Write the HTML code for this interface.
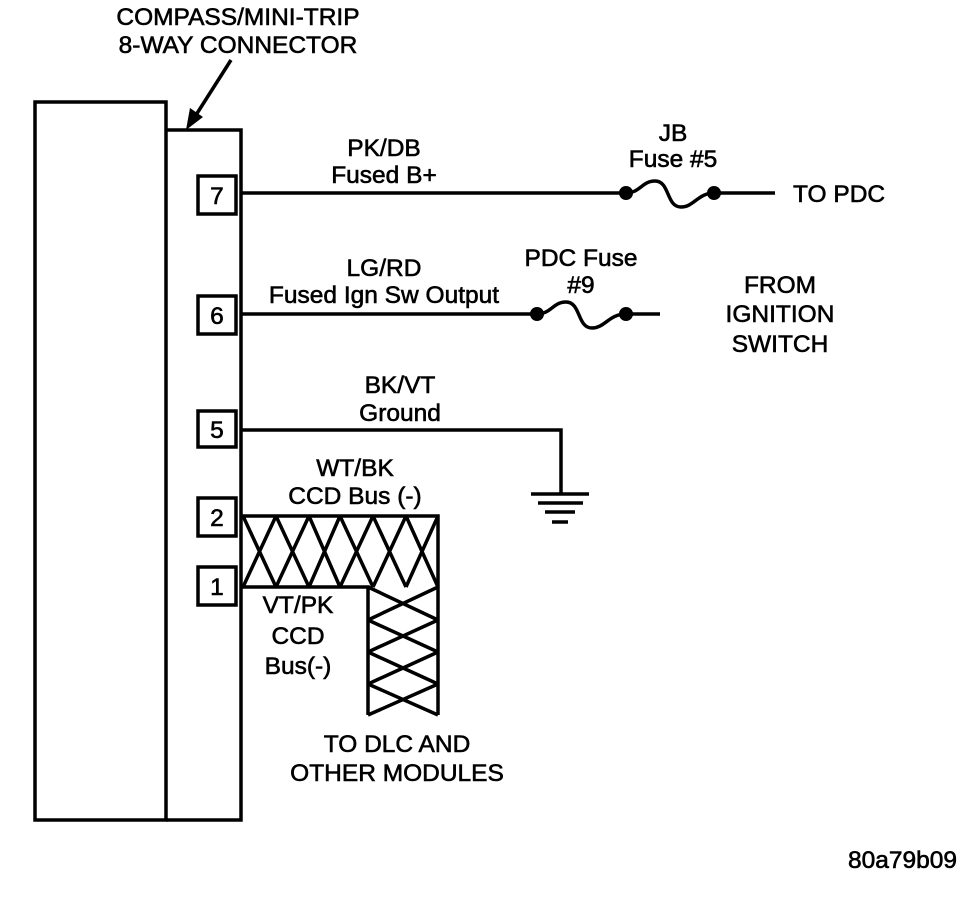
<!DOCTYPE html>
<html><head><style>
html,body{margin:0;padding:0;background:#fff;}
svg{display:block;}
text{font-family:"Liberation Sans",Arial,sans-serif;font-size:24.5px;fill:#000;stroke:#000;stroke-width:0.6;}
</style></head><body>
<svg width="976" height="898" viewBox="0 0 976 898" xmlns="http://www.w3.org/2000/svg">
<g fill="none" stroke="#000" stroke-width="3.5">
<rect x="35" y="102" width="131" height="718"/>
<polyline points="166,130 241,130 241,820 166,820"/>
<rect x="198" y="176" width="38" height="38"/>
<rect x="198" y="296" width="38" height="38"/>
<rect x="198" y="411" width="38" height="36"/>
<rect x="198" y="498" width="38" height="38"/>
<rect x="198" y="567" width="38" height="38"/>
<line x1="241" y1="193" x2="626" y2="193"/>
<line x1="714" y1="193" x2="775" y2="193"/>
<path d="M626,193 C640,193 642,181 655,181 C670,181 666,207 681,207 C694,207 698,193 714,193"/>
<line x1="241" y1="314" x2="537" y2="314"/>
<line x1="626" y1="314" x2="660" y2="314"/>
<path d="M537,314 C551,314 553,302 566,302 C581,302 577,328 592,328 C605,328 609,314 626,314"/>
<polyline points="241,430 561,430 561,494"/>
<line x1="531" y1="494" x2="589" y2="494"/>
<line x1="538" y1="503" x2="583" y2="503"/>
<line x1="545" y1="512" x2="575" y2="512"/>
<line x1="552" y1="522" x2="568" y2="522"/>
<line x1="231" y1="60" x2="196" y2="115"/>
<polyline points="241,516 438,516 438,715"/>
<polyline points="241,587 368,587 368,715"/>
<path d="M243,516 L276,587 M276,516 L243,587 M276,516 L309,587 M309,516 L276,587 M309,516 L340,587 M340,516 L309,587 M340,516 L373,587 M373,516 L340,587 M373,516 L406,587 M406,516 L373,587 M406,516 L438,587 M438,516 L406,587"/>
<path d="M368,587 L438,620 M438,587 L368,620 M368,620 L438,652 M438,620 L368,652 M368,652 L438,684 M438,652 L368,684 M368,684 L438,715 M438,684 L368,715"/>
</g>
<polygon points="186,130 190,108 203,117" fill="#000"/>
<g fill="#000">
<circle cx="626" cy="193" r="7"/><circle cx="714" cy="193" r="7"/>
<circle cx="537" cy="314" r="7"/><circle cx="626" cy="314" r="7"/>
</g>
<g text-anchor="middle">
<text x="238" y="25">COMPASS/MINI-TRIP</text>
<text x="238" y="53">8-WAY CONNECTOR</text>
<text x="217" y="204">7</text>
<text x="217" y="324">6</text>
<text x="217" y="438">5</text>
<text x="217" y="526">2</text>
<text x="217" y="595">1</text>
<text x="384" y="156">PK/DB</text>
<text x="384" y="183">Fused B+</text>
<text x="673" y="141">JB</text>
<text x="673" y="167">Fuse #5</text>
<text x="384" y="276">LG/RD</text>
<text x="384" y="303">Fused Ign Sw Output</text>
<text x="581" y="266">PDC Fuse</text>
<text x="581" y="293">#9</text>
<text x="780" y="293">FROM</text>
<text x="780" y="322">IGNITION</text>
<text x="780" y="352">SWITCH</text>
<text x="400" y="393">BK/VT</text>
<text x="400" y="421">Ground</text>
<text x="355" y="476">WT/BK</text>
<text x="355" y="504">CCD Bus (-)</text>
<text x="298" y="613">VT/PK</text>
<text x="298" y="644">CCD</text>
<text x="298" y="674">Bus(-)</text>
<text x="397" y="752">TO DLC AND</text>
<text x="397" y="781">OTHER MODULES</text>
</g>
<text x="793" y="202">TO PDC</text>
<text x="848" y="868">80a79b09</text>
</svg>
</body></html>
